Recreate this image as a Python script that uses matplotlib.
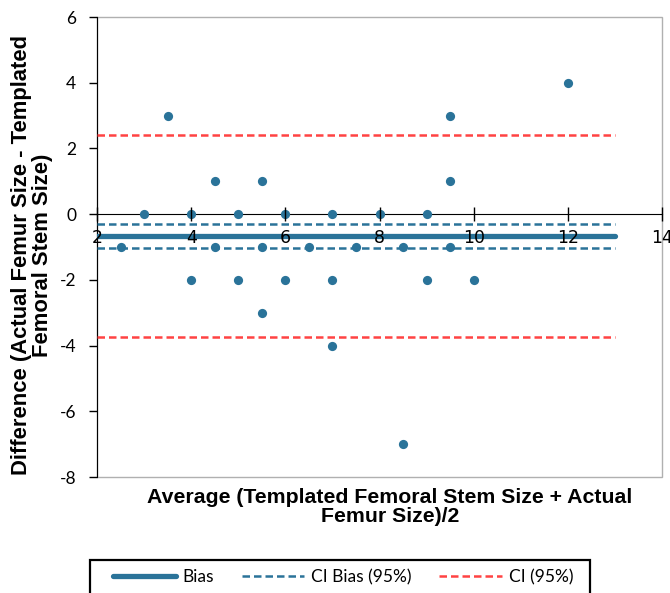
import matplotlib
matplotlib.use("Agg")
import matplotlib.pyplot as plt
from matplotlib.patches import Rectangle

avg_size = [2.5, 3, 3.5, 4, 4, 4.5, 4.5, 5, 5, 5.5, 5.5, 5.5, 6, 6, 6.5,
            7, 7, 7, 7.5, 8, 8.5, 8.5, 9, 9, 9.5, 9.5, 9.5, 10, 12]
difference = [-1, 0, 3, 0, -2, 1, -1, 0, -2, 1, -1, -3, 0, -2, -1,
              0, -2, -4, -1, 0, -1, -7, 0, -2, 3, 1, -1, -2, 4]

line_x = [2, 13]
bias = -0.67
ci_bias_upper = -0.30
ci_bias_lower = -1.04
ci_upper = 2.40
ci_lower = -3.74

x_ticks = [2, 4, 6, 8, 10, 12, 14]
y_ticks = [6, 4, 2, 0, -2, -4, -6, -8]

blue = "#2A7399"
red = "#FF4343"

fig = plt.figure(figsize=(6.7, 5.93), dpi=100)
ax = fig.add_axes([97/670, 1-477/593, (662-97)/670, (477-17)/593])

ax.scatter(avg_size, difference, s=44, color=blue, zorder=5, linewidths=0)
ax.plot(line_x, [bias, bias], color=blue, lw=3.8, solid_capstyle='round', label="Bias", zorder=4)
ax.plot(line_x, [ci_bias_upper]*2, color=blue, lw=1.8, ls=(0, (3, 1.6)), label="CI Bias (95%)", zorder=4)
ax.plot(line_x, [ci_bias_lower]*2, color=blue, lw=1.8, ls=(0, (3, 1.6)), zorder=4)
ax.plot(line_x, [ci_upper]*2, color=red, lw=1.8, ls=(0, (3, 1.6)), label="CI (95%)", zorder=4)
ax.plot(line_x, [ci_lower]*2, color=red, lw=1.8, ls=(0, (3, 1.6)), zorder=4)

ax.set_xlim(2, 14)
ax.set_ylim(-8, 6)
ax.set_xticks(x_ticks)
ax.set_yticks(y_ticks)

tick_font = "Lato"
ax.set_xticklabels([str(t) for t in x_ticks], family=tick_font)
ax.set_yticklabels([str(t) for t in y_ticks], family=tick_font)

ax.spines['bottom'].set_position(('data', 0))
ax.spines['bottom'].set_color('black')
ax.spines['left'].set_color('black')
ax.spines['top'].set_visible(False)
ax.spines['right'].set_visible(False)
ax.tick_params(axis='x', direction='inout', length=10, width=1, pad=6, labelsize=12.5)
ax.tick_params(axis='y', direction='out', length=6, width=1, pad=9, labelsize=12.5)
ax.xaxis.set_zorder(6)
ax.spines['bottom'].set_zorder(3)

ax.add_patch(Rectangle((0, 0), 1, 1, transform=ax.transAxes, fill=False,
                       edgecolor="#B0B0B0", lw=1, zorder=0, clip_on=False))

fig.text(390/670, 1-507/593, "Average (Templated Femoral Stem Size + Actual\nFemur Size)/2",
         ha='center', va='center', fontsize=15.3, fontweight='bold', family="Liberation Sans",
         linespacing=1.0)
fig.text(32/670, 1-255/593, "Difference (Actual Femur Size - Templated\nFemoral Stem Size)",
         ha='center', va='center', rotation=90, fontsize=15.8, fontweight='bold',
         family="Liberation Sans", linespacing=1.0)

leg = fig.legend(loc='center left', bbox_to_anchor=(113/670, 1-577/593),
                 ncol=3, frameon=False,
                 prop={'family': tick_font, 'size': 12.5}, handlelength=3.6,
                 handletextpad=0.4, columnspacing=1.6, borderpad=0, borderaxespad=0)

fig.patches.append(Rectangle((90/670, -0.02), (590-90)/670, (1-560/593) + 0.02,
                             transform=fig.transFigure, fill=False, edgecolor='black',
                             lw=1.6, clip_on=False))

fig.savefig("out.png", dpi=100)
